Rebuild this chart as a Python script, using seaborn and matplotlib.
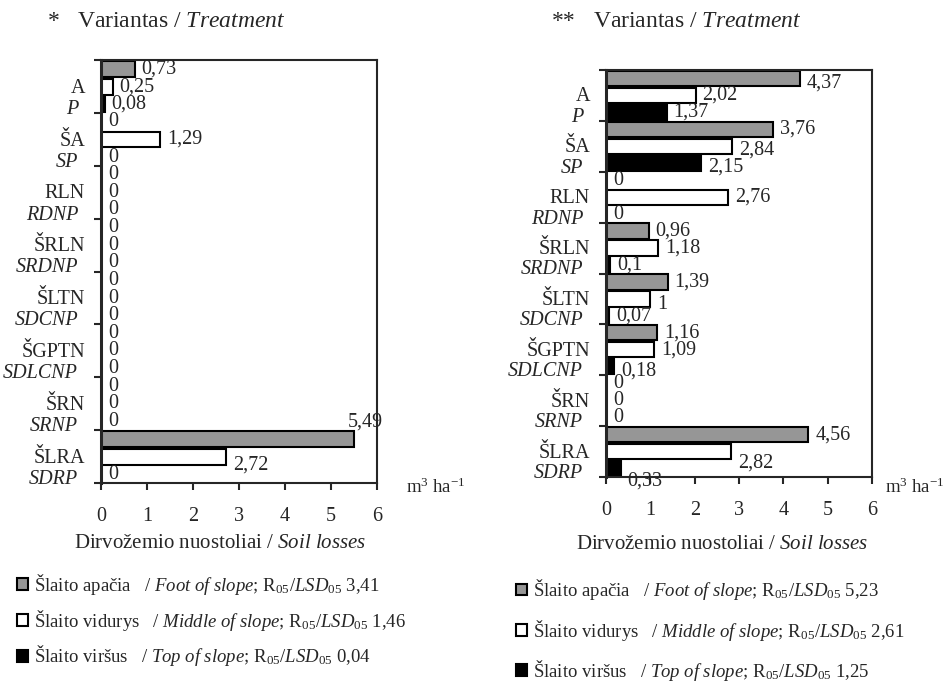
import matplotlib.pyplot as plt
import pandas as pd
import seaborn as sns
from matplotlib.patches import Patch

# Data
categories_lt = ["A", "ŠA", "RLN", "ŠRLN", "ŠLTN", "ŠGPTN", "ŠRN", "ŠLRA"]
categories_en = ["P", "SP", "RDNP", "SRDNP", "SDCNP", "SDLCNP", "SRNP", "SDRP"]
positions = ["foot", "middle", "top"]

left_foot = [0.73, 0, 0, 0, 0, 0, 0, 5.49]
left_middle = [0.25, 1.29, 0, 0, 0, 0, 0, 2.72]
left_top = [0.08, 0, 0, 0, 0, 0, 0, 0]

right_foot = [4.37, 3.76, 0, 0.96, 1.39, 1.16, 0, 4.56]
right_middle = [2.02, 2.84, 2.76, 1.18, 1, 1.09, 0, 2.82]
right_top = [1.37, 2.15, 0, 0.1, 0.07, 0.18, 0, 0.33]

legend_lt = ["Šlaito apačia", "Šlaito vidurys", "Šlaito viršus"]
legend_en = ["Foot of slope", "Middle of slope", "Top of slope"]
lsd_left = ["3,41", "1,46", "0,04"]
lsd_right = ["5,23", "2,61", "1,25"]

x_ticks = [0, 1, 2, 3, 4, 5, 6]

# Style
sns.set_style("ticks")
plt.rcParams["font.family"] = ["Liberation Serif", "DejaVu Serif"]
plt.rcParams["mathtext.fontset"] = "custom"
plt.rcParams["mathtext.rm"] = "Liberation Serif"
plt.rcParams["mathtext.it"] = "Liberation Serif:italic"
colors = {"foot": "#969696", "middle": "white", "top": "black"}
FS = 14.5


def make_frame(foot, middle, top):
    rows = []
    for pos, vals in zip(positions, [foot, middle, top]):
        for cat, v in zip(categories_lt, vals):
            rows.append({"cat": cat, "pos": pos, "value": v})
    return pd.DataFrame(rows)


def fmt(v):
    return f"{v:g}".replace(".", ",")


def draw_panel(ax, df, nudges, xlabel_xy, unit_xy):
    sns.barplot(data=df, y="cat", x="value", hue="pos", orient="h",
                order=categories_lt, hue_order=positions, palette=colors,
                saturation=1, width=1.0, gap=0.1, edgecolor="black",
                linewidth=1.5, legend=False, ax=ax)
    ax.set_xlim(0, 6)
    ax.set_ylim(len(categories_lt) - 0.5, -0.5)
    ax.set_xticks(x_ticks)
    ax.set_xticklabels([str(t) for t in x_ticks], fontsize=FS)
    ax.set_yticks([i - 0.5 for i in range(len(categories_lt) + 1)])
    ax.set_yticklabels([])
    ax.tick_params(axis="x", length=5, width=1.5, pad=12)
    ax.tick_params(axis="y", length=5, width=1.5)
    for side in ["top", "right", "bottom"]:
        ax.spines[side].set_visible(True)
        ax.spines[side].set_linewidth(1.5)
    ax.spines["left"].set_linewidth(2.2)
    ax.set_ylabel("")
    ax.set_xlabel("Dirvožemio nuostoliai / $\\mathit{Soil\\ losses}$", fontsize=15)
    ax.xaxis.set_label_coords(*xlabel_xy)

    # category labels
    for i, (lt, en) in enumerate(zip(categories_lt, categories_en)):
        ax.annotate(lt, xy=(0, i + 0.03), xycoords=("axes fraction", "data"),
                    xytext=(-11.5, 0), textcoords="offset points",
                    ha="right", va="center", fontsize=FS)
        ax.annotate(en, xy=(0, i + 0.43), xycoords=("axes fraction", "data"),
                    xytext=(-16.5, 0), textcoords="offset points",
                    ha="right", va="center", fontsize=FS, style="italic")

    # value labels
    for j, cont in enumerate(ax.containers):
        for p in cont.patches:
            yc = p.get_y() + p.get_height() / 2
            i = int(round(yc))
            dx, dy = nudges.get((i, j), (5, 0))
            ax.annotate(fmt(p.get_width()), xy=(p.get_width(), yc),
                        xytext=(dx, dy), textcoords="offset points",
                        ha="left", va="center", fontsize=FS)

    ax.text(unit_xy[0], unit_xy[1], "m$^3$ ha$^{-1}$", transform=ax.transAxes,
            ha="left", va="center", fontsize=13.5)


fig = plt.figure(figsize=(9.45, 6.83), dpi=100)
ax1 = fig.add_axes([0.1069, 0.2928, 0.292, 0.619])
ax2 = fig.add_axes([0.6413, 0.3016, 0.2815, 0.5959])

nudges_left = {(7, 0): (-4, 12), (7, 1): (5, -6)}
nudges_right = {(0, 0): (5, -3), (1, 1): (5, -3), (1, 2): (5, -3),
                (4, 1): (5, -4), (5, 2): (5, -3), (7, 1): (5, -8), (7, 2): (5, -9)}

draw_panel(ax1, make_frame(left_foot, left_middle, left_top), nudges_left,
           (0.43, -0.12), (1.105, -0.01))
draw_panel(ax2, make_frame(right_foot, right_middle, right_top), nudges_right,
           (0.436, -0.142), (1.05, -0.025))

fig.text(0.051, 0.969, "*", fontsize=17, ha="left", va="center")
fig.text(0.081, 0.969, "Variantas / $\\mathit{Treatment}$", fontsize=17, ha="left", va="center")
fig.text(0.584, 0.969, "**", fontsize=17, ha="left", va="center")
fig.text(0.627, 0.969, "Variantas / $\\mathit{Treatment}$", fontsize=17, ha="left", va="center")


def legend_labels(lsd):
    out = []
    for lt, en, v in zip(legend_lt, legend_en, lsd):
        en_m = en.replace(" ", "\\ ")
        out.append(f"{lt}   / $\\mathit{{{en_m}}}$; R$_{{05}}$/$\\mathit{{LSD}}_{{\\mathit{{05}}}}$ {v}")
    return out


handles = [Patch(facecolor=colors[p], edgecolor="black", linewidth=1.5) for p in positions]
fig.legend(handles, legend_labels(lsd_left), loc="upper left", bbox_to_anchor=(0.018, 0.163),
           frameon=False, fontsize=13.5, handlelength=0.6, handleheight=0.6,
           handletextpad=0.3, labelspacing=0.58, borderpad=0, borderaxespad=0)
fig.legend(handles, legend_labels(lsd_right), loc="upper left", bbox_to_anchor=(0.546, 0.155),
           frameon=False, fontsize=13.5, handlelength=0.6, handleheight=0.6,
           handletextpad=0.3, labelspacing=0.82, borderpad=0, borderaxespad=0)

fig.savefig("out.png", dpi=100)
